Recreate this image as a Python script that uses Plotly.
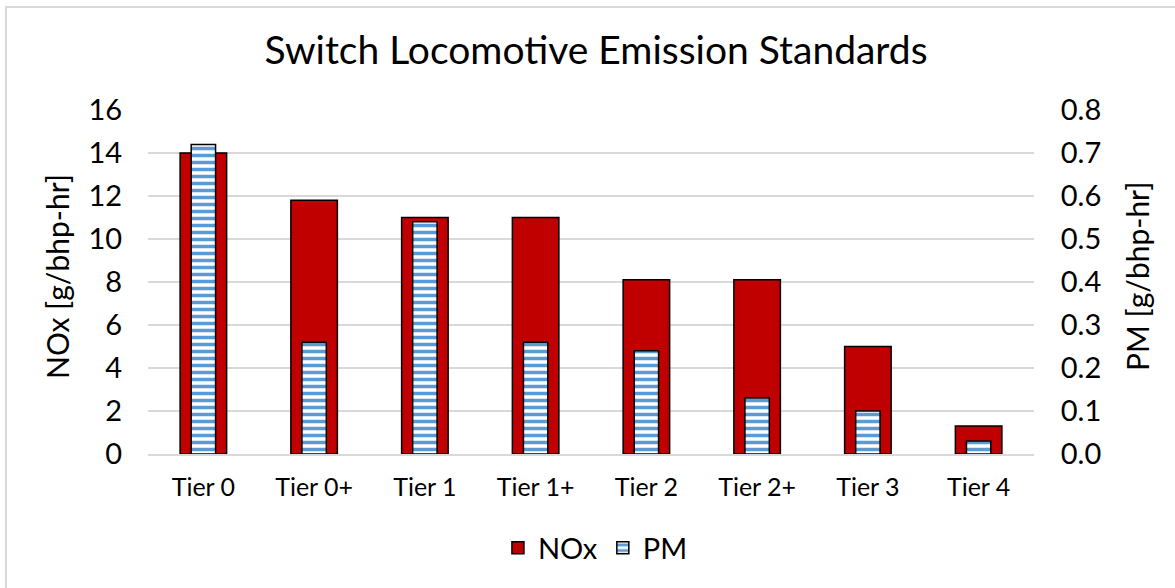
import plotly.graph_objects as go

tiers = ["Tier 0", "Tier 0+", "Tier 1", "Tier 1+", "Tier 2", "Tier 2+", "Tier 3", "Tier 4"]
nox = [14.0, 11.8, 11.0, 11.0, 8.1, 8.1, 5.0, 1.3]
pm = [0.72, 0.26, 0.54, 0.26, 0.24, 0.13, 0.10, 0.03]

FONT = "Lato"

fig = go.Figure()
fig.add_trace(
    go.Bar(
        x=tiers,
        y=nox,
        name="NOx",
        width=0.42,
        marker=dict(color="#c00000", line=dict(color="black", width=1.5)),
        yaxis="y",
    )
)
fig.add_trace(
    go.Bar(
        x=tiers,
        y=pm,
        name="PM",
        width=0.22,
        marker=dict(
            color="white",
            line=dict(color="black", width=1.5),
            pattern=dict(
                shape="-", fgcolor="#5b9bd5", fgopacity=1, bgcolor="white",
                size=7, solidity=0.5,
            ),
        ),
        yaxis="y2",
    )
)

fig.update_layout(
    width=1175,
    height=588,
    barmode="overlay",
    plot_bgcolor="white",
    paper_bgcolor="white",
    font=dict(family=FONT, color="black"),
    margin=dict(l=148, r=141, t=110, b=134, autoexpand=False),
    title=dict(
        text="Switch Locomotive Emission Standards",
        x=596 / 1175,
        xanchor="center",
        y=1 - 50 / 588,
        yanchor="middle",
        yref="container",
        font=dict(size=39, family=FONT),
    ),
    xaxis=dict(
        tickfont=dict(size=25),
        showgrid=False,
        showline=True,
        linecolor="#d9d9d9",
        linewidth=1.5,
        ticks="outside",
        ticklen=10,
        tickcolor="white",
        automargin=False,
    ),
    yaxis=dict(
        range=[0, 16],
        dtick=2,
        showgrid=True,
        gridcolor="#d9d9d9",
        gridwidth=1.5,
        zeroline=False,
        tickfont=dict(size=29),
        ticks="outside",
        ticklen=19,
        tickcolor="white",
        automargin=False,
    ),
    yaxis2=dict(
        range=[0, 0.8],
        dtick=0.1,
        tickformat=".1f",
        overlaying="y",
        side="right",
        showgrid=False,
        zeroline=False,
        tickfont=dict(size=29),
        ticks="outside",
        ticklen=20,
        tickcolor="white",
        automargin=False,
    ),
    legend=dict(
        orientation="h",
        x=0.505,
        xanchor="center",
        y=-0.273,
        yanchor="middle",
        font=dict(size=29),
        traceorder="normal",
    ),
    showlegend=True,
)

# axis titles
fig.add_annotation(
    text="NOx [g/bhp-hr]", xref="paper", yref="paper", x=(57 - 148) / 886, y=0.5145,
    textangle=-90, showarrow=False, font=dict(size=30),
    xanchor="center", yanchor="middle",
)
fig.add_annotation(
    text="PM [g/bhp-hr]", xref="paper", yref="paper", x=(1137 - 148) / 886, y=0.5145,
    textangle=-90, showarrow=False, font=dict(size=30),
    xanchor="center", yanchor="middle",
)

# chart frame
fig.add_shape(
    type="rect",
    xref="paper",
    yref="paper",
    x0=-0.1603,
    x1=1.3,
    y0=-0.6,
    y1=1.2994,
    line=dict(color="#d9d9d9", width=2),
    fillcolor="rgba(0,0,0,0)",
    layer="below",
)

fig.write_html(
    "out.html",
    config={"displayModeBar": False},
    post_script="document.body.style.margin='0px';",
)
